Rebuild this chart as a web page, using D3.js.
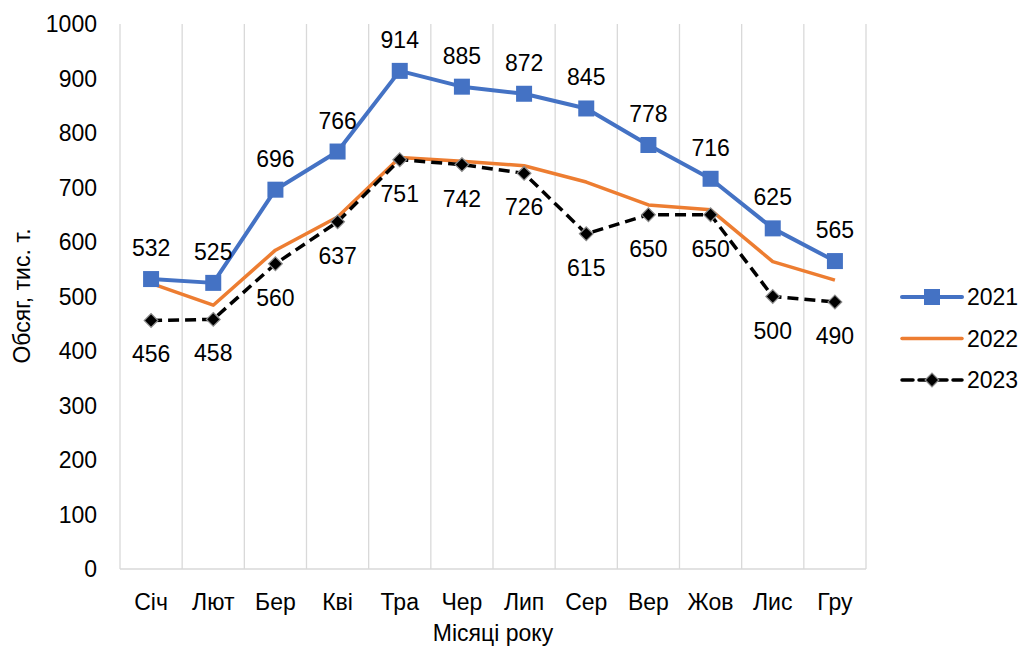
<!DOCTYPE html>
<html>
<head>
<meta charset="utf-8">
<script src="https://cdn.jsdelivr.net/npm/d3@7"></script>
<style>
  body { margin: 0; background: #fff; }
  svg text { font-family: "Liberation Sans", Arial, sans-serif; fill: #000; font-size: 23px; }
</style>
</head>
<body>
<svg></svg>
<script>
let width = 1026;
let height = 646;

// months
let months = ['Січ', 'Лют', 'Бер', 'Кві', 'Тра', 'Чер', 'Лип', 'Сер', 'Вер', 'Жов', 'Лис', 'Гру'];
let values2021 = [532, 525, 696, 766, 914, 885, 872, 845, 778, 716, 625, 565];
let values2022 = [524, 484, 585, 646, 755, 748, 740, 710, 668, 659, 564, 530];
let values2023 = [456, 458, 560, 637, 751, 742, 726, 615, 650, 650, 500, 490];
let yTicks = [0, 100, 200, 300, 400, 500, 600, 700, 800, 900, 1000];

let margin = {left: 120, right: 160, top: 24, bottom: 77};

let svg = d3.select('svg')
    .attr('width', width)
    .attr('height', height);

let x = d3.scaleBand()
    .domain(months)
    .range([margin.left, width - margin.right]);

let y = d3.scaleLinear()
    .domain([0, 1000])
    .range([height - margin.bottom, margin.top]);

// vertical gridlines at category borders
let borders = months.map(m => x(m)).concat([x.range()[1]]);
svg.append('g')
    .selectAll('line')
    .data(borders)
    .enter()
    .append('line')
    .attr('x1', d => d).attr('x2', d => d)
    .attr('y1', y(1000)).attr('y2', y(0))
    .attr('stroke', '#d9d9d9')
    .attr('stroke-width', 1.3);

// bottom axis line
svg.append('line')
    .attr('x1', x.range()[0]).attr('x2', x.range()[1])
    .attr('y1', y(0)).attr('y2', y(0))
    .attr('stroke', '#d9d9d9')
    .attr('stroke-width', 1.3);

// y tick labels
svg.append('g')
    .selectAll('text')
    .data(yTicks)
    .enter()
    .append('text')
    .attr('x', 97)
    .attr('y', d => y(d))
    .attr('dy', '0.35em')
    .attr('text-anchor', 'end')
    .text(d => d);

// x tick labels
svg.append('g')
    .selectAll('text')
    .data(months)
    .enter()
    .append('text')
    .attr('x', d => x(d) + x.bandwidth() / 2)
    .attr('y', 610)
    .attr('text-anchor', 'middle')
    .text(d => d);

// axis titles
svg.append('text')
    .attr('x', (x.range()[0] + x.range()[1]) / 2)
    .attr('y', 641)
    .attr('text-anchor', 'middle')
    .text('Місяці року');

svg.append('text')
    .attr('transform', 'translate(30, 296) rotate(-90)')
    .attr('text-anchor', 'middle')
    .text('Обсяг, тис. т.');

let cx = (d, i) => x(months[i]) + x.bandwidth() / 2;
let line = d3.line().x(cx).y(d => y(d));

// 2022
svg.append('path')
    .datum(values2022)
    .attr('d', line)
    .attr('fill', 'none')
    .attr('stroke', '#ed7d31')
    .attr('stroke-width', 3.5)
    .attr('stroke-linejoin', 'round');

// 2021
svg.append('path')
    .datum(values2021)
    .attr('d', line)
    .attr('fill', 'none')
    .attr('stroke', '#4472c4')
    .attr('stroke-width', 4)
    .attr('stroke-linejoin', 'round');

svg.append('g')
    .selectAll('rect')
    .data(values2021)
    .enter()
    .append('rect')
    .attr('x', (d, i) => cx(d, i) - 8)
    .attr('y', d => y(d) - 8)
    .attr('width', 16)
    .attr('height', 16)
    .attr('fill', '#4472c4');

// 2023
svg.append('path')
    .datum(values2023)
    .attr('d', line)
    .attr('fill', 'none')
    .attr('stroke', '#000')
    .attr('stroke-width', 3.5)
    .attr('stroke-dasharray', '11,6');

let diamond = d3.symbol().type(d3.symbolDiamond2).size(120);
svg.append('g')
    .selectAll('path')
    .data(values2023)
    .enter()
    .append('path')
    .attr('d', diamond)
    .attr('transform', (d, i) => `translate(${cx(d, i)}, ${y(d)})`)
    .attr('fill', '#000')
    .attr('stroke', '#8c8c8c')
    .attr('stroke-width', 1.2);

// data labels
svg.append('g')
    .selectAll('text')
    .data(values2021)
    .enter()
    .append('text')
    .attr('x', cx)
    .attr('y', d => y(d) - 23)
    .attr('text-anchor', 'middle')
    .text(d => d);

svg.append('g')
    .selectAll('text')
    .data(values2023)
    .enter()
    .append('text')
    .attr('x', cx)
    .attr('y', d => y(d) + 42)
    .attr('text-anchor', 'middle')
    .text(d => d);

// legend
let legendItems = ['2021', '2022', '2023'];
let legend = svg.append('g')
    .selectAll('g')
    .data(legendItems)
    .enter()
    .append('g')
    .attr('transform', (d, i) => `translate(902, ${297 + i * 41.5})`);

legend.append('line')
    .attr('x1', 0).attr('x2', 60)
    .attr('stroke', (d, i) => ['#4472c4', '#ed7d31', '#000'][i])
    .attr('stroke-width', (d, i) => i === 0 ? 4 : 3.5)
    .attr('stroke-linecap', 'round')
    .attr('stroke-dasharray', (d, i) => i === 2 ? '11,6' : null);

legend.filter((d, i) => i === 0)
    .append('rect')
    .attr('x', 22).attr('y', -8)
    .attr('width', 16).attr('height', 16)
    .attr('fill', '#4472c4');

legend.filter((d, i) => i === 2)
    .append('path')
    .attr('d', diamond)
    .attr('transform', 'translate(30, 0)')
    .attr('fill', '#000')
    .attr('stroke', '#8c8c8c')
    .attr('stroke-width', 1.2);

legend.append('text')
    .attr('x', 65)
    .attr('dy', '0.35em')
    .text(d => d);
</script>
</body>
</html>
